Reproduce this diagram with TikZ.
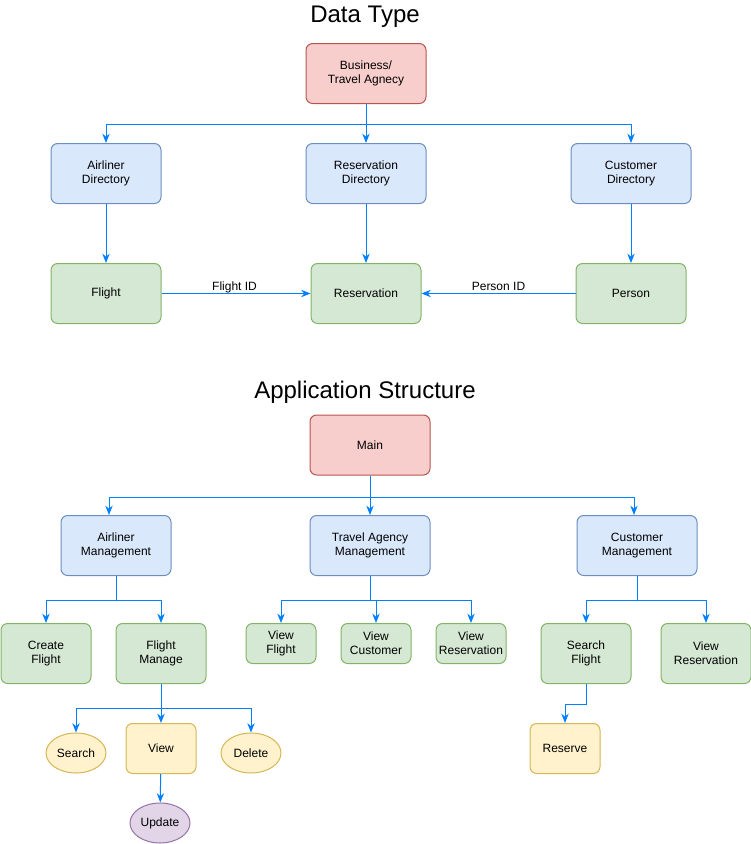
\documentclass[tikz,border=0pt]{standalone}
\usepackage{fontspec}
\setmainfont{Liberation Sans}
\usetikzlibrary{arrows.meta,shapes.geometric}
\definecolor{redfill}{HTML}{F8CECC}
\definecolor{redline}{HTML}{B85450}
\definecolor{bluefill}{HTML}{DAE8FC}
\definecolor{blueline}{HTML}{6C8EBF}
\definecolor{greenfill}{HTML}{D5E8D4}
\definecolor{greenline}{HTML}{82B366}
\definecolor{yellowfill}{HTML}{FFF2CC}
\definecolor{yellowline}{HTML}{D6B656}
\definecolor{purplefill}{HTML}{E1D5E7}
\definecolor{purpleline}{HTML}{9673A6}
\definecolor{wire}{HTML}{007FFF}
\begin{document}
\begin{tikzpicture}[x=0.75pt,y=-0.75pt,>={Stealth[length=7pt,width=5.5pt]},
    every node/.style={font=\fontsize{9pt}{10.5pt}\selectfont,align=center,inner sep=0pt},
    box/.style={draw,rounded corners=5pt,line width=0.75pt,minimum width=#1},
    box/.default=82.5pt,
    rootbox/.style={box=90pt,minimum height=45pt,fill=redfill,draw=redline},
    dirbox/.style={box=#1,minimum height=45pt,fill=bluefill,draw=blueline},
    leafbox/.style={box=#1,fill=greenfill,draw=greenline},
    actbox/.style={box=52.5pt,minimum height=37.5pt,fill=yellowfill,draw=yellowline},
    actoval/.style={draw,ellipse,line width=0.75pt,minimum width=45pt,minimum height=30pt,fill=yellowfill,draw=yellowline},
    title/.style={font=\fontsize{18pt}{21pt}\selectfont},
    link/.style={->,draw=wire,line width=0.75pt}]
    \useasboundingbox (0,0) rectangle (751,844);

    % data type
    \node [title] (t1) at (365,16.5) {Data Type};
    \node [rootbox] (biz) at (366,73.5) {Business/\\Travel Agnecy};
    \node [dirbox=82.5pt] (adir) at (106,173.5) {Airliner\\Directory};
    \node [dirbox=90pt] (rdir) at (366,173.5) {Reservation\\Directory};
    \node [dirbox=90pt] (cdir) at (631,173.5) {Customer\\Directory};
    \node [leafbox=82.5pt,minimum height=45pt] (flight) at (106,293.5) {Flight};
    \node [leafbox=82.5pt,minimum height=45pt] (resv) at (366,293.5) {Reservation};
    \node [leafbox=82.5pt,minimum height=45pt] (person) at (631,293.5) {Person};
    \draw [link] (biz.south) -- (rdir.north);
    \draw [link] (biz.south) -- ++(0,20.5) -| (adir.north);
    \draw [link] (biz.south) -- ++(0,20.5) -| (cdir.north);
    \draw [link] (adir) -- (flight);
    \draw [link] (rdir) -- (resv);
    \draw [link] (cdir) -- (person);
    \draw [link] (flight) -- node [above,pos=.49] {Flight ID} (resv);
    \draw [link] (person) -- node [above=1.5pt] {Person ID} (resv);

    % application structure
    \node [title] (t2) at (365,392.5) {Application Structure};
    \node [rootbox] (main) at (370,445) {Main};
    \node [dirbox=82.5pt] (amgr) at (116,545.5) {Airliner\\Management};
    \node [dirbox=90pt] (tmgr) at (370,545.5) {Travel Agency\\Management};
    \node [dirbox=90pt] (cmgr) at (637,545.5) {Customer\\Management};
    \draw [link] (main.south) -- (tmgr.north);
    \draw [link] (main.south) -- ++(0,21.5) -| ([xshift=-5.25pt]amgr.north);
    \draw [link] (main.south) -- ++(0,21.5) -| ([xshift=-2.25pt]cmgr.north);

    \node [leafbox=67.5pt,minimum height=45pt] (create) at (46,653.5) {Create\\Flight};
    \node [leafbox=67.5pt,minimum height=45pt] (fmanage) at (161,653.5) {Flight\\Manage};
    \draw [link] (amgr.south) -- ++(0,24) -| (create.north);
    \draw [link] (amgr.south) -- ++(0,24) -| (fmanage.north);

    \node [leafbox=52.5pt,minimum height=30pt] (vflight) at (281,643.5) {View\\Flight};
    \node [leafbox=52.5pt,minimum height=30pt] (vcust) at (376,643.5) {View\\Customer};
    \node [leafbox=52.5pt,minimum height=30pt] (vresv) at (471,643.5) {View\\Reservation};
    \draw [link] (tmgr.south) -- ++(0,24) -| (vflight.north);
    \draw [link] (tmgr.south) -- ++(0,24) -| (vcust.north);
    \draw [link] (tmgr.south) -- ++(0,24) -| (vresv.north);

    \node [leafbox=67.5pt,minimum height=45pt] (sflight) at (586,653.5) {Search\\Flight};
    \node [leafbox=67.5pt,minimum height=45pt] (vresv2) at (706,653.5) {View\\Reservation};
    \draw [link] (cmgr.south) -- ++(0,24) -| (sflight.north);
    \draw [link] (cmgr.south) -- ++(0,24) -| (vresv2.north);

    \node [actbox] (reserve) at (565,748.5) {Reserve};
    \draw [link] (sflight.south) -- ++(0,20.5) -| (reserve.north);

    \node [actoval] (search) at (76,753) {Search};
    \node [actbox] (view) at (161,748.5) {View};
    \node [actoval] (delete) at (251,753) {Delete};
    \node [actoval,fill=purplefill,draw=purpleline] (update) at (160,823) {Update};
    \draw [link] (fmanage.south) -- (view.north);
    \draw [link] (fmanage.south) -- ++(0,24.5) -| (search.north);
    \draw [link] (fmanage.south) -- ++(0,24.5) -| (delete.north);
    \draw [link] (view) -- (update);
\end{tikzpicture}
\end{document}
